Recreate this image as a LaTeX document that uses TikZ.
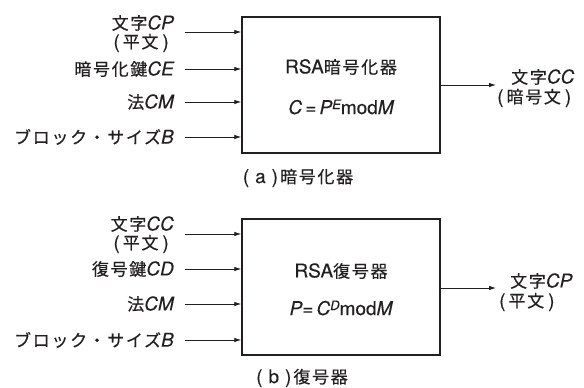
\documentclass[tikz,border=0pt]{standalone}
\usepackage{fontspec}
\setmainfont{TeX Gyre Heros}[FakeBold=0.3]
\newfontfamily\cjk[LetterSpace=10,FakeBold=0.4]{Noto Sans CJK JP}
\usetikzlibrary{arrows.meta}
\newcommand{\jp}[1]{{\cjk\fontsize{17pt}{20pt}\selectfont #1}}
\newcommand{\la}[1]{{\fontsize{19pt}{22pt}\selectfont\itshape #1}}
\newcommand{\lu}[1]{{\fontsize{19pt}{22pt}\selectfont #1}}
\newcommand{\pj}[1]{\lu{(}\hspace{3pt}\jp{#1}\hspace{4pt}\lu{)}}
\definecolor{ink}{HTML}{231F20}
\tikzset{
  blk/.style={draw=ink, line width=1.4pt, minimum width=198pt, minimum height=136pt, inner sep=0pt},
  arr/.style={draw=ink, line width=0.8pt, -{Latex[length=7pt,width=4.5pt]}},
  lbl/.style={anchor=east, inner sep=0pt, text=ink},
  txt/.style={inner sep=0pt, text=ink},
}
\begin{document}
\begin{tikzpicture}[x=1pt,y=-1pt]
\useasboundingbox (0,0) rectangle (584,388);
% ---------- (a) encryption ----------
\node[blk] (A) at (341,85) {};
\node[txt] (Ata) at (341,67) {\lu{RSA}\jp{暗号化器}};
\node[txt] (Afa) at (341,107) {\la{C}\lu{\,=\,}\la{P}\raisebox{0.5em}{\fontsize{13pt}{15pt}\selectfont\itshape E}\lu{mod}\la{M}};
\node[lbl] (Al1a) at (174,23) {\jp{文字}\la{CP}};
\node[lbl] (Al1b) at (169,43) {\pj{平文}};
\node[lbl] (Al2) at (174,69) {\jp{暗号化鍵}\la{CE}};
\node[lbl] (Al3) at (174,102) {\jp{法}\la{CM}};
\node[lbl] (Al4) at (174,137) {\jp{ブロック・サイズ}\la{B}};
\coordinate (Ai1) at (185,32);
\coordinate (Ai2) at (185,69);
\coordinate (Ai3) at (185,102);
\coordinate (Ai4) at (185,137);
\foreach \i in {1,2,3,4} \draw[arr] (Ai\i) -- (Ai\i -| A.west);
\coordinate (Ao) at (496,85);
\draw[arr] (Ao -| A.east) -- (Ao);
\node[txt, anchor=west] (Aoa) at (511,77) {\jp{文字}\la{CC}};
\node[txt, anchor=west] (Aob) at (497,98) {\pj{暗号文}};
\node[txt] (Acap) at (298,178) {\lu{(\hspace{6pt}a\hspace{6pt})}\hspace{2pt}\jp{暗号化器}};
% ---------- (b) decryption ----------
\node[blk] (B) at (341,287) {};
\node[txt] (Bta) at (341,271) {\lu{RSA}\jp{復号器}};
\node[txt] (Bfa) at (341,308) {\la{P}\lu{=\,}\la{C}\raisebox{0.5em}{\fontsize{13pt}{15pt}\selectfont\itshape D}\lu{mod}\la{M}};
\node[lbl] (Bl1a) at (174,224) {\jp{文字}\la{CC}};
\node[lbl] (Bl1b) at (169,244) {\pj{平文}};
\node[lbl] (Bl2) at (174,269) {\jp{復号鍵}\la{CD}};
\node[lbl] (Bl3) at (174,304) {\jp{法}\la{CM}};
\node[lbl] (Bl4) at (174,340) {\jp{ブロック・サイズ}\la{B}};
\coordinate (Bi1) at (185,234);
\coordinate (Bi2) at (185,269);
\coordinate (Bi3) at (185,304);
\coordinate (Bi4) at (185,340);
\foreach \i in {1,2,3,4} \draw[arr] (Bi\i) -- (Bi\i -| B.west);
\coordinate (Bo) at (496,288);
\draw[arr] (Bo -| B.east) -- (Bo);
\node[txt, anchor=west] (Boa) at (510,281) {\jp{文字}\la{CP}};
\node[txt, anchor=west] (Bob) at (499,302) {\pj{平文}};
\node[txt] (Bcap) at (302,378) {\lu{(\hspace{6pt}b\hspace{6pt})}\hspace{2pt}\jp{復号器}};
\end{tikzpicture}
\end{document}
